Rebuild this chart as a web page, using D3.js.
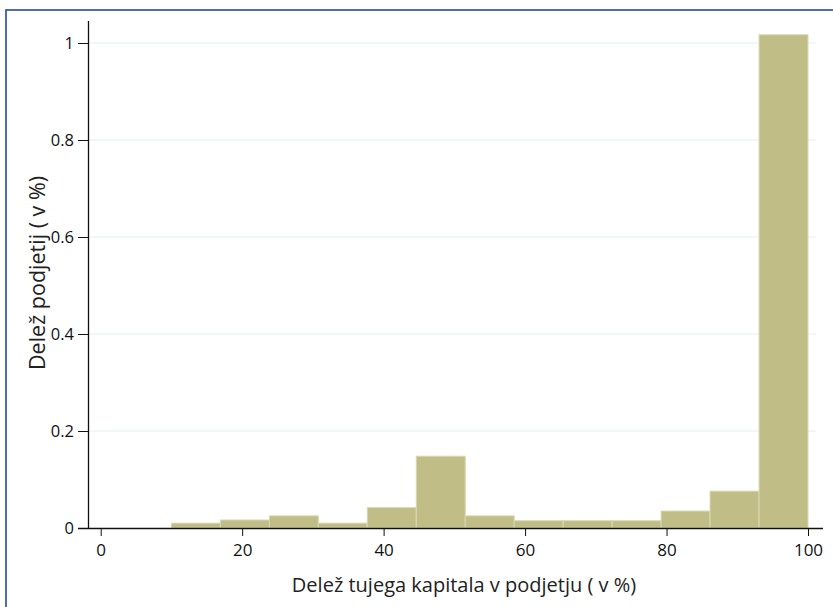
<!DOCTYPE html>
<html>
<head>
<meta charset="utf-8">
<script src="https://cdn.jsdelivr.net/npm/d3@7"></script>
<style>
  html, body { margin: 0; padding: 0; background: #fff; }
  svg { display: block; font-family: "Open Sans", "Noto Sans", sans-serif; }
</style>
</head>
<body>
<svg id="chart" width="833" height="607"></svg>
<script>
// Histogram bins: lower and upper edges (share of foreign capital, %)
const binStart = [10, 16.92, 23.85, 30.77, 37.69, 44.62, 51.54, 58.46, 65.38, 72.31, 79.23, 86.15, 93.08];
const binEnd   = [16.92, 23.85, 30.77, 37.69, 44.62, 51.54, 58.46, 65.38, 72.31, 79.23, 86.15, 93.08, 100];
// Bar heights (share of firms)
const binValue = [0.010, 0.0165, 0.025, 0.010, 0.042, 0.148, 0.025, 0.015, 0.015, 0.015, 0.035, 0.076, 1.017];
const xTicks = [0, 20, 40, 60, 80, 100];
const yTicks = [0, 0.2, 0.4, 0.6, 0.8, 1];
const yTickLabels = ["0", "0.2", "0.4", "0.6", "0.8", "1"];
const xTitle = "Delež tujega kapitala v podjetju ( v %)";
const yTitle = "Delež podjetij ( v %)";

const svg = d3.select("#chart");

// outer frame
svg.append("rect")
  .attr("x", 6).attr("y", 10).attr("width", 840).attr("height", 620)
  .attr("fill", "none").attr("stroke", "#2a45a0").attr("stroke-width", 1.6);

const x = d3.scaleLinear().domain([0, 100]).range([100.7, 808]);
const y = d3.scaleLinear().domain([0, 1]).range([528, 43]);

// horizontal grid lines
svg.append("g").selectAll("line")
  .data(yTicks.filter(d => d > 0))
  .join("line")
  .attr("x1", 89).attr("x2", 816)
  .attr("y1", d => y(d)).attr("y2", d => y(d))
  .attr("stroke", "#e6edf2").attr("stroke-width", 1.2);

// bars
svg.append("g").selectAll("rect")
  .data(binValue.map((v, i) => ({ a: binStart[i], b: binEnd[i], v })))
  .join("rect")
  .attr("x", d => x(d.a))
  .attr("width", d => x(d.b) - x(d.a))
  .attr("y", d => y(d.v))
  .attr("height", d => y(0) - y(d.v))
  .attr("fill", "#c0be86")
  .attr("stroke", "#d9d8b2")
  .attr("stroke-width", 1);

// x axis
const xAxis = svg.append("g")
  .attr("transform", `translate(0,${y(0)})`)
  .call(d3.axisBottom(x).tickValues(xTicks).tickSize(8).tickPadding(8).tickSizeOuter(0));
xAxis.select(".domain").attr("d", "M78,0.5H823");
xAxis.selectAll("line").attr("stroke", "#111");
xAxis.selectAll("text").attr("font-size", 17).attr("fill", "#111")
  .attr("font-family", "'Open Sans', sans-serif");

// y axis
const yAxis = svg.append("g")
  .attr("transform", "translate(88,0)")
  .call(d3.axisLeft(y).tickValues(yTicks).tickFormat((d, i) => yTickLabels[i])
    .tickSize(10).tickPadding(4).tickSizeOuter(0));
yAxis.select(".domain").attr("d", "M0.5,21V528");
yAxis.selectAll("line").attr("stroke", "#111");
yAxis.selectAll("text").attr("font-size", 16.5).attr("fill", "#111")
  .attr("font-family", "'Open Sans', sans-serif");
svg.selectAll(".domain").attr("stroke", "#111").attr("stroke-width", 1.3);

// axis titles
svg.append("text")
  .attr("x", 464).attr("y", 592)
  .attr("text-anchor", "middle")
  .attr("font-size", 20).attr("fill", "#222")
  .text(xTitle);

svg.append("text")
  .attr("transform", "translate(45,273) rotate(-90)")
  .attr("text-anchor", "middle")
  .attr("font-size", 21.5).attr("fill", "#222")
  .text(yTitle);
</script>
</body>
</html>
